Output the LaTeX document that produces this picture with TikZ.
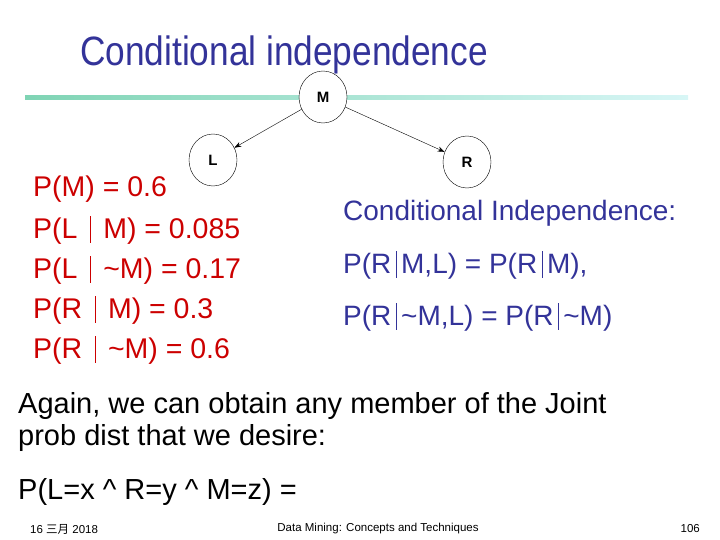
\documentclass[tikz,border=0pt]{standalone}
\usepackage{fontspec}
\setmainfont{Liberation Sans}
\newfontfamily\cjk{Noto Sans CJK SC}
\usetikzlibrary{shapes.geometric,arrows.meta}
\definecolor{ttl}{HTML}{333399}
\definecolor{redt}{HTML}{CC0000}
\definecolor{bluet}{HTML}{333399}
\definecolor{lineA}{HTML}{7FD4B4}
\definecolor{lineB}{HTML}{D8F6F6}
\newcommand{\gv}{\,\rule[-0.15em]{0.4pt}{0.95em}\,}
\tikzset{
 circ/.style={draw,ellipse,minimum width=48pt,minimum height=52pt,inner sep=0pt,font=\fontsize{15}{15}\selectfont\bfseries,fill=white},
 lft/.style={anchor=west,inner sep=0pt,text=redt,font=\fontsize{28.5}{28.5}\selectfont},
 rgt/.style={anchor=west,inner sep=0pt,text=bluet,font=\fontsize{28}{28}\selectfont},
 bot/.style={anchor=west,inner sep=0pt,font=\fontsize{29}{29}\selectfont},
 foot/.style={inner sep=0pt,font=\fontsize{11.5}{11.5}\selectfont},
 arr/.style={-{Stealth[length=7pt,width=5pt]},thin}
}
\begin{document}
\begin{tikzpicture}[x=1pt,y=-1pt]
\useasboundingbox (0,0) rectangle (720,540);
\node[anchor=west,inner sep=0pt,text=ttl,font=\fontsize{41}{41}\selectfont,xscale=0.86] (title) at (80,55) {Conditional independence};
\shade[left color=lineA,right color=lineB] (25,96) rectangle (688,100);
\node[circ] (M) at (323,97) {M};
\node[circ] (L) at (213,160) {L};
\node[circ] (R) at (467,162) {R};
\draw[arr] (M) -- (L);
\draw[arr] (M) -- (R);
\node[lft] (p1) at (33,189) {P(M) = 0.6};
\node[lft] (p2) at (33,230) {P(L \gv\ M) = 0.085};
\node[lft] (p3) at (33,270) {P(L \gv\ \textasciitilde M) = 0.17};
\node[lft] (p4) at (33,310) {P(R \gv\ M) = 0.3};
\node[lft] (p5) at (33,350) {P(R \gv\ \textasciitilde M) = 0.6};
\node[rgt] (c1) at (343,213) {Conditional Independence:};
\node[rgt] (c2) at (343,265) {P(R\gv M,L) = P(R\gv M),};
\node[rgt] (c3) at (343,317) {P(R\gv\textasciitilde M,L) = P(R\gv\textasciitilde M)};
\node[bot] (b1) at (18,406) {Again, we can obtain any member of the Joint};
\node[bot] (b2) at (18,438) {prob dist that we desire:};
\node[bot] (b3) at (18,492) {P(L=x \^{} R=y \^{} M=z) =};
\node[foot,anchor=west] (f1) at (30,529) {16 {\cjk 三月} 2018};
\node[foot] (f2) at (378,529) {Data Mining: Concepts and Techniques};
\node[foot,anchor=east] (f3) at (700,529) {106};
\end{tikzpicture}
\end{document}
